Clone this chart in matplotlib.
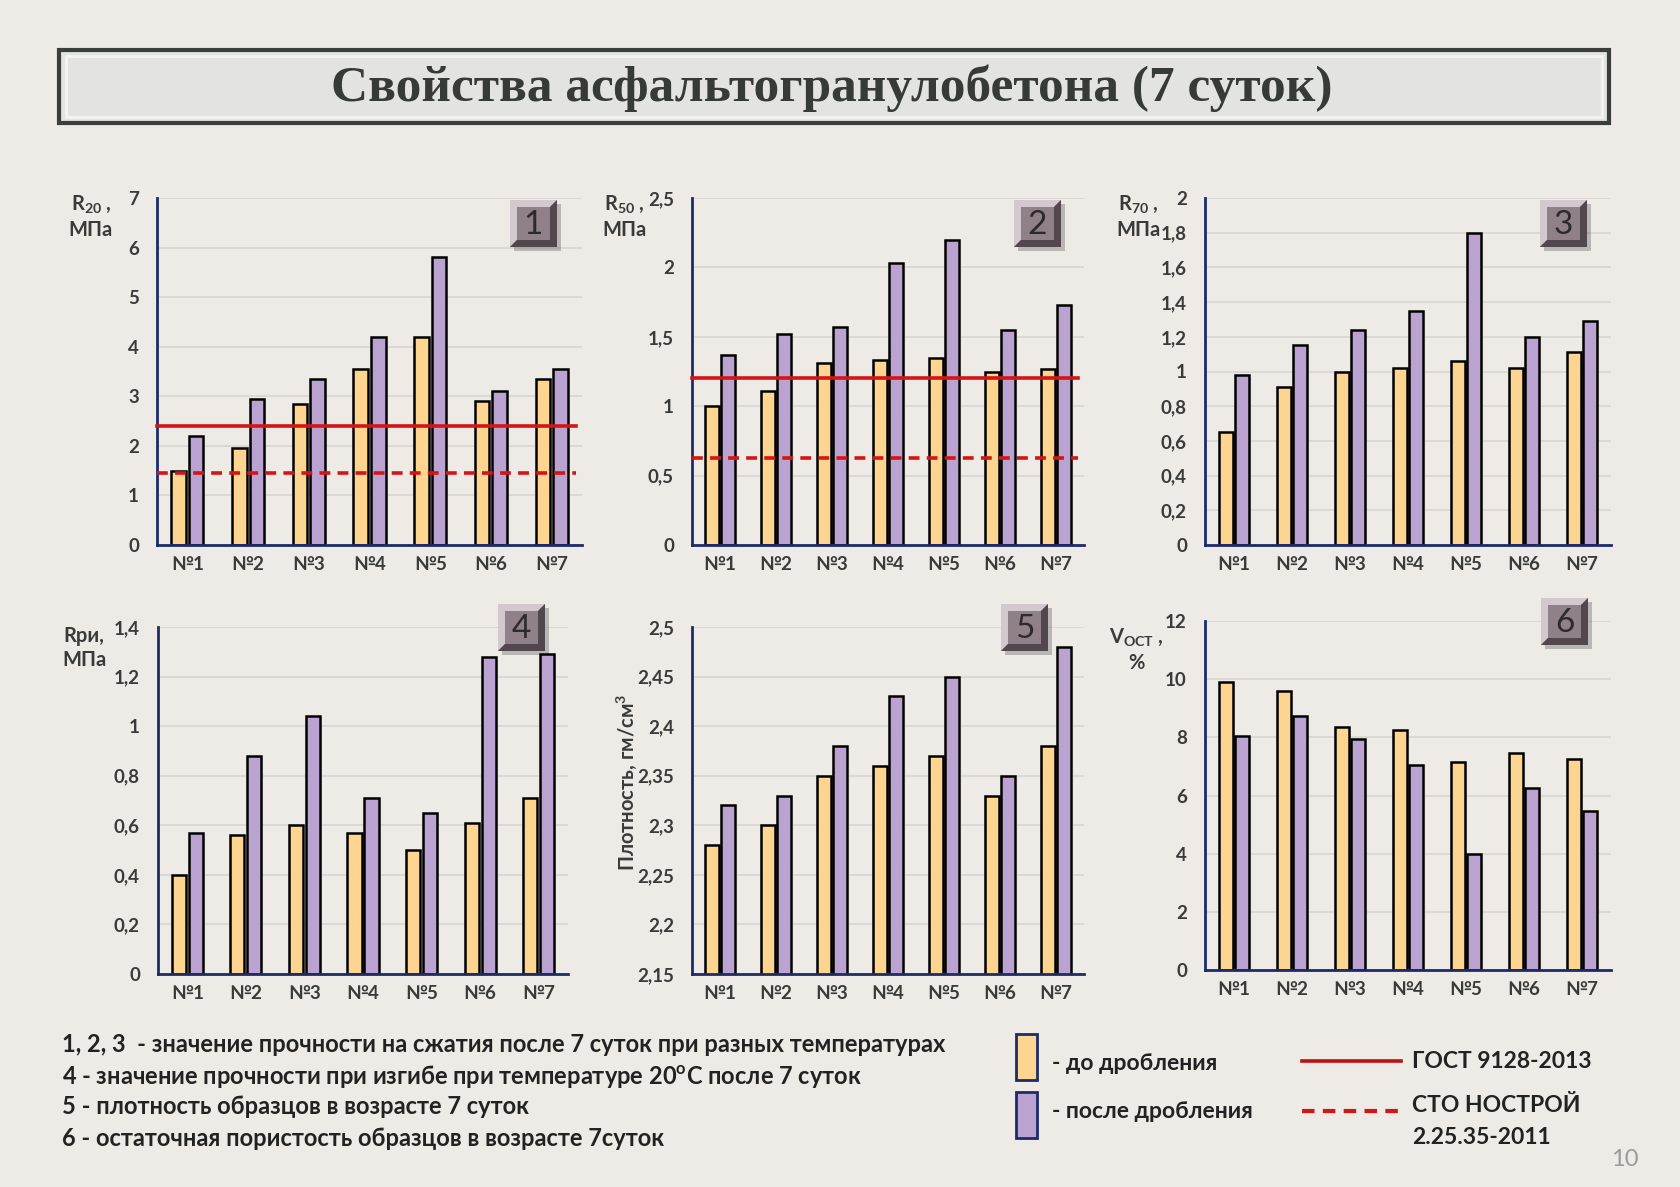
import matplotlib
matplotlib.use('Agg')
import matplotlib.pyplot as plt
from matplotlib.patches import Rectangle, Polygon
from matplotlib.lines import Line2D

W, H = 1680, 1187

plt.rcParams['font.family'] = ['Lato', 'DejaVu Sans']
plt.rcParams['mathtext.fontset'] = 'custom'
plt.rcParams['mathtext.rm'] = 'Lato'
plt.rcParams['mathtext.bf'] = 'Lato:bold'
plt.rcParams['mathtext.it'] = 'Lato:italic'

#################
#### Data #######
#################

samples = ['№1', '№2', '№3', '№4', '№5', '№6', '№7']

r20_before = [1.5, 1.95, 2.85, 3.55, 4.2, 2.9, 3.35]
r20_after = [2.2, 2.95, 3.35, 4.2, 5.8, 3.1, 3.55]
r20_gost = 2.4
r20_sto = 1.45

r50_before = [1.0, 1.11, 1.31, 1.33, 1.35, 1.25, 1.27]
r50_after = [1.37, 1.52, 1.57, 2.03, 2.2, 1.55, 1.73]
r50_gost = 1.2
r50_sto = 0.63

r70_before = [0.65, 0.91, 1.0, 1.02, 1.06, 1.02, 1.11]
r70_after = [0.98, 1.15, 1.24, 1.35, 1.8, 1.2, 1.29]

rri_before = [0.4, 0.56, 0.6, 0.57, 0.5, 0.61, 0.71]
rri_after = [0.57, 0.88, 1.04, 0.71, 0.65, 1.28, 1.29]

dens_before = [2.28, 2.30, 2.35, 2.36, 2.37, 2.33, 2.38]
dens_after = [2.32, 2.33, 2.38, 2.43, 2.45, 2.35, 2.48]

vost_before = [9.9, 9.6, 8.35, 8.25, 7.15, 7.45, 7.25]
vost_after = [8.05, 8.75, 7.95, 7.05, 4.0, 6.25, 5.45]

ticks1 = [0, 1, 2, 3, 4, 5, 6, 7]
labels1 = ['0', '1', '2', '3', '4', '5', '6', '7']
ticks2 = [0, 0.5, 1, 1.5, 2, 2.5]
labels2 = ['0', '0,5', '1', '1,5', '2', '2,5']
ticks3 = [0, 0.2, 0.4, 0.6, 0.8, 1, 1.2, 1.4, 1.6, 1.8, 2]
labels3 = ['0', '0,2', '0,4', '0,6', '0,8', '1', '1,2', '1,4', '1,6', '1,8', '2']
ticks4 = [0, 0.2, 0.4, 0.6, 0.8, 1, 1.2, 1.4]
labels4 = ['0', '0,2', '0,4', '0,6', '0,8', '1', '1,2', '1,4']
ticks5 = [2.15, 2.2, 2.25, 2.3, 2.35, 2.4, 2.45, 2.5]
labels5 = ['2,15', '2,2', '2,25', '2,3', '2,35', '2,4', '2,45', '2,5']
ticks6 = [0, 2, 4, 6, 8, 10, 12]
labels6 = ['0', '2', '4', '6', '8', '10', '12']

notes = ['1, 2, 3  - значение прочности на сжатия после 7 суток при разных температурах',
         r'4 - значение прочности при изгибе при температуре 20$\mathbf{^o}$С после 7 суток',
         '5 - плотность образцов в возрасте 7 суток',
         '6 - остаточная пористость образцов в возрасте 7суток']

###################
#### Styles #######
###################

BG = '#EEEBE6'
ORANGE = '#FDD591'
PURPLE = '#BBA3D1'
RED = '#D51515'
NAVY = '#1D2B6B'
TXT = '#3A3A3A'


def fx(x):
    return x / W


def fy(y):
    return 1 - y / H


def badge(fig, x, y, s, label):
    '''Bevelled number square, x,y = top-left corner in pixels'''
    b = 7
    fig.add_artist(Rectangle((fx(x + 4), fy(y + s + 4)), s / W, s / H,
                             transform=fig.transFigure, color=(0, 0, 0, 0.22), lw=0))
    fig.add_artist(Rectangle((fx(x), fy(y + s)), s / W, s / H,
                             transform=fig.transFigure, color='#8C7C85', lw=0))
    light = [(x, y), (x + s, y), (x + s - b, y + b), (x + b, y + b), (x + b, y + s - b), (x, y + s)]
    dark = [(x + s, y), (x + s, y + s), (x, y + s), (x + b, y + s - b), (x + s - b, y + s - b), (x + s - b, y + b)]
    fig.add_artist(Polygon([(fx(a), fy(c)) for a, c in light], transform=fig.transFigure,
                           color='#D3C8CE', lw=0))
    fig.add_artist(Polygon([(fx(a), fy(c)) for a, c in dark], transform=fig.transFigure,
                           color='#52474D', lw=0))
    fig.add_artist(Rectangle((fx(x + b), fy(y + s - b)), (s - 2 * b) / W, (s - 2 * b) / H,
                             transform=fig.transFigure, color='#8F8089', lw=0))
    fig.text(fx(x + s / 2), fy(y + s / 2 + 1), label, ha='center', va='center',
             fontsize=24, color='#2E292C', family=['Lato', 'DejaVu Sans'])


def panel(fig, box, before, after, ylim, ticks, labels, gost=None, sto=None):
    left, top, right, bottom = box
    ax = fig.add_axes([fx(left), fy(bottom), (right - left) / W, (bottom - top) / H])
    ax.set_facecolor('none')
    x = list(range(len(samples)))
    ax.bar([i - 0.145 for i in x], before, width=0.24, color=ORANGE, edgecolor='black',
           linewidth=1.8, zorder=2)
    ax.bar([i + 0.145 for i in x], after, width=0.24, color=PURPLE, edgecolor='black',
           linewidth=1.8, zorder=2)
    if gost is not None:
        ax.plot([-0.5, 6.4], [gost, gost], color=RED, lw=2.6, zorder=3, clip_on=False)
    if sto is not None:
        ax.plot([-0.5, 6.4], [sto, sto], color=RED, lw=2.6, ls=(0, (3, 2)), zorder=3)
    ax.set_xlim(-0.5, 6.5)
    ax.set_ylim(ylim)
    ax.set_yticks(ticks)
    ax.set_yticklabels(labels)
    ax.set_xticks(x)
    ax.set_xticklabels(samples)
    ax.yaxis.grid(True, color='#D8D6D2', lw=1.2, zorder=0)
    ax.set_axisbelow(True)
    for sp in ['top', 'right']:
        ax.spines[sp].set_visible(False)
    for sp in ['left', 'bottom']:
        ax.spines[sp].set_color(NAVY)
        ax.spines[sp].set_linewidth(2)
    ax.tick_params(axis='y', length=0, pad=13, labelsize=13.5, labelcolor=TXT)
    ax.tick_params(axis='x', length=0, pad=8, labelsize=13.5, labelcolor=TXT)
    for t in ax.get_xticklabels() + ax.get_yticklabels():
        t.set_fontweight('bold')
    return ax


#######################
#### Main Program #####
#######################

fig = plt.figure(figsize=(W / 100, H / 100), dpi=100, facecolor=BG)

# title box
fig.add_artist(Rectangle((fx(59), fy(123)), 1550 / W, 73 / H, transform=fig.transFigure,
                         facecolor='#E3E3DF', edgecolor='#3A3E3A', lw=3))
fig.add_artist(Rectangle((fx(66), fy(117)), 1536 / W, 61 / H, transform=fig.transFigure,
                         facecolor='none', edgecolor='#F4F4F1', lw=2))
fig.text(fx(832), fy(88), 'Свойства асфальтогранулобетона (7 суток)', ha='center', va='center',
         fontsize=37, fontweight='bold', color='#363B36', family=['Liberation Serif', 'DejaVu Serif'])

panel(fig, (157, 198, 582, 545), r20_before, r20_after, (0, 7), ticks1, labels1, r20_gost, r20_sto)
panel(fig, (692, 198, 1084, 545), r50_before, r50_after, (0, 2.5), ticks2, labels2, r50_gost, r50_sto)
panel(fig, (1205, 198, 1611, 545), r70_before, r70_after, (0, 2), ticks3, labels3)
panel(fig, (158, 627, 568, 974), rri_before, rri_after, (0, 1.4), ticks4, labels4)
panel(fig, (692, 627, 1084, 974), dens_before, dens_after, (2.15, 2.5), ticks5, labels5)
panel(fig, (1205, 621, 1611, 970), vost_before, vost_after, (0, 12), ticks6, labels6)

# axis captions
cap = dict(ha='center', va='center', fontsize=14.5, fontweight='bold', color=TXT, linespacing=1.3)
fig.text(fx(91), fy(217), r'$\mathbf{R_{20}}$ ,' + '\nМПа', **cap)
fig.text(fx(624), fy(217), r'$\mathbf{R_{50}}$ ,' + '\nМПа', **cap)
fig.text(fx(1138), fy(217), r'$\mathbf{R_{70}}$ ,' + '\nМПа', **cap)
fig.text(fx(84), fy(648), 'Rри,\nМПа', **cap)
fig.text(fx(1136), fy(650), r'$\mathbf{V_{ОСТ}}$ ,' + '\n%', **cap)
fig.text(fx(627), fy(782), r'Плотность, гм/см$\mathbf{^3}$', rotation=90, ha='center', va='center',
         fontsize=14.5, fontweight='bold', color=TXT)

# number badges
for (bx, by), lab in zip([(510, 200), (1014, 200), (1540, 200), (498, 604), (1001, 604), (1541, 598)],
                         ['1', '2', '3', '4', '5', '6']):
    badge(fig, bx, by, 47, lab)

# notes at the bottom
for i, line in enumerate(notes):
    fig.text(fx(62), fy(1045 + 31 * i), line, ha='left', va='center', fontsize=17,
             fontweight='bold', color='#222222')

# legend
fig.add_artist(Rectangle((fx(1016), fy(1080)), 21 / W, 46 / H, transform=fig.transFigure,
                         facecolor=ORANGE, edgecolor=NAVY, lw=2))
fig.add_artist(Rectangle((fx(1016), fy(1138)), 21 / W, 46 / H, transform=fig.transFigure,
                         facecolor=PURPLE, edgecolor=NAVY, lw=2))
leg = dict(ha='left', va='center', fontsize=16.5, fontweight='bold', color='#222222')
fig.text(fx(1052), fy(1063), '- до дробления', **leg)
fig.text(fx(1052), fy(1112), '- после дробления', **leg)
fig.add_artist(Line2D([fx(1302), fx(1401)], [fy(1061), fy(1061)], transform=fig.transFigure,
                      color='#C01010', lw=2.6))
fig.add_artist(Line2D([fx(1302), fx(1401)], [fy(1111), fy(1111)], transform=fig.transFigure,
                      color=RED, lw=3, ls=(0, (3, 2))))
fig.text(fx(1412), fy(1061), 'ГОСТ 9128-2013', **leg)
fig.text(fx(1412), fy(1106), 'СТО НОСТРОЙ', **leg)
fig.text(fx(1412), fy(1138), '2.25.35-2011', **leg)
fig.text(fx(1625), fy(1159), '10', ha='center', va='center', fontsize=17, color='#9A9A9A')

fig.savefig('out.png', dpi=100, facecolor=BG)
